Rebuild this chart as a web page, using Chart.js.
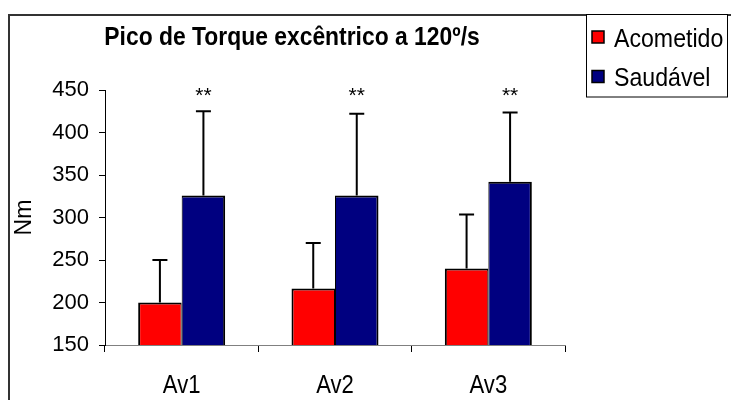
<!DOCTYPE html>
<html>
<head>
<meta charset="utf-8">
<script src="https://cdn.jsdelivr.net/npm/chart.js@4/dist/chart.umd.min.js"></script>
<style>
  html, body { margin: 0; padding: 0; background: #ffffff; }
  canvas { display: block; }
</style>
</head>
<body>
<canvas id="c" width="731" height="400"></canvas>
<script>
// ---- data ----
const categories = ['Av1', 'Av2', 'Av3'];
const acometido = [200, 216.5, 240];
const acometidoSD = [50, 53.5, 63.5];
const saudavel = [326, 326, 342];
const saudavelSD = [99, 96, 81.5];
const significance = ['**', '**', '**'];
const seriesNames = ['Acometido', 'Saudável'];
const yMin = 150, yMax = 450, yStep = 50;
const chartTitle = 'Pico de Torque excêntrico a 120º/s';
const yAxisTitle = 'Nm';

const FONT = '"Liberation Sans", Arial, sans-serif';
const errors = [acometidoSD, saudavelSD];

function condensedText(ctx, text, x, y, font, sx, align) {
  ctx.save();
  ctx.translate(x, y);
  ctx.scale(sx, 1);
  ctx.font = font;
  ctx.textAlign = align;
  ctx.textBaseline = 'alphabetic';
  ctx.fillStyle = '#000';
  ctx.fillText(text, 0, 0);
  ctx.restore();
}

const decorPlugin = {
  id: 'decor',
  afterDatasetsDraw(chart) {
    const ctx = chart.ctx;
    const y = chart.scales.y;
    const x = chart.scales.x;
    ctx.save();
    ctx.strokeStyle = '#000';
    ctx.lineWidth = 2;
    chart.data.datasets.forEach((ds, i) => {
      const meta = chart.getDatasetMeta(i);
      meta.data.forEach((bar, j) => {
        const top = y.getPixelForValue(ds.data[j]);
        const end = y.getPixelForValue(ds.data[j] + errors[i][j]);
        ctx.beginPath();
        ctx.moveTo(bar.x, top);
        ctx.lineTo(bar.x, end);
        ctx.moveTo(bar.x - 7.5, end);
        ctx.lineTo(bar.x + 7.5, end);
        ctx.stroke();
      });
    });
    // significance marks over the Saudável bars
    const meta1 = chart.getDatasetMeta(1);
    ctx.fillStyle = '#000';
    ctx.font = '21px ' + FONT;
    ctx.textAlign = 'center';
    ctx.textBaseline = 'alphabetic';
    meta1.data.forEach((bar, j) => {
      ctx.fillText(significance[j], bar.x, y.getPixelForValue(yMax) + 12);
    });
    ctx.restore();
    // category labels (condensed, like the original)
    chart.data.labels.forEach((lab, j) => {
      condensedText(ctx, lab, x.getPixelForValue(j), x.bottom - 7, '26px ' + FONT, 0.85, 'center');
    });
  },
  afterDraw(chart) {
    const ctx = chart.ctx;
    ctx.save();
    // outer frame
    ctx.strokeStyle = '#333';
    ctx.lineWidth = 2;
    ctx.strokeRect(9, 15, 740, 400);
    // legend box
    ctx.fillStyle = '#fff';
    ctx.fillRect(586.5, 15, 141, 82);
    ctx.strokeStyle = '#000';
    ctx.lineWidth = 1;
    ctx.strokeRect(586.5, 14.5, 141, 82.5);
    const rows = [37, 76.5];
    chart.data.datasets.forEach((ds, i) => {
      const cy = rows[i];
      ctx.fillStyle = ds.backgroundColor;
      ctx.fillRect(592, cy - 6, 12, 12);
      ctx.strokeStyle = '#000';
      ctx.lineWidth = 1.5;
      ctx.strokeRect(592, cy - 6, 12, 12);
      condensedText(ctx, ds.label, 614, cy + 9.5, '26px ' + FONT, 0.89, 'left');
    });
    ctx.restore();
    // title
    condensedText(ctx, chartTitle, 292, 45, 'bold 26px ' + FONT, 0.88, 'center');
  }
};

new Chart(document.getElementById('c'), {
  type: 'bar',
  data: {
    labels: categories,
    datasets: [
      {
        label: seriesNames[0],
        data: acometido,
        backgroundColor: '#FF0000',
        borderColor: '#000',
        borderWidth: { top: 2, left: 2, right: 1, bottom: 2 },
        borderSkipped: false
      },
      {
        label: seriesNames[1],
        data: saudavel,
        backgroundColor: '#000080',
        borderColor: '#000',
        borderWidth: { top: 2, left: 1, right: 2, bottom: 2 },
        borderSkipped: false
      }
    ]
  },
  options: {
    responsive: false,
    animation: false,
    devicePixelRatio: 1,
    layout: { padding: { top: 90, right: 166, left: 0, bottom: 0 } },
    datasets: { bar: { categoryPercentage: 0.5675, barPercentage: 1.0 } },
    plugins: {
      legend: { display: false },
      title: { display: false },
      tooltip: { enabled: false }
    },
    scales: {
      x: {
        grid: { display: true, drawOnChartArea: false, drawTicks: true, tickLength: 7, color: '#000', offset: true },
        border: { display: true, color: '#808080', width: 1 },
        ticks: { display: false },
        afterFit(scale) { scale.height = 55; }
      },
      y: {
        min: yMin,
        max: yMax,
        grid: { display: true, drawOnChartArea: false, drawTicks: true, tickLength: 6, color: '#000' },
        border: { display: true, color: '#000', width: 1 },
        ticks: { stepSize: yStep, color: '#000', font: { family: FONT, size: 22 }, padding: 10 },
        title: { display: true, text: yAxisTitle, color: '#000', font: { family: FONT, size: 23 }, padding: { top: 11, bottom: 0 } },
        afterFit(scale) { scale.width = 105; }
      }
    }
  },
  plugins: [decorPlugin]
});
</script>
</body>
</html>
